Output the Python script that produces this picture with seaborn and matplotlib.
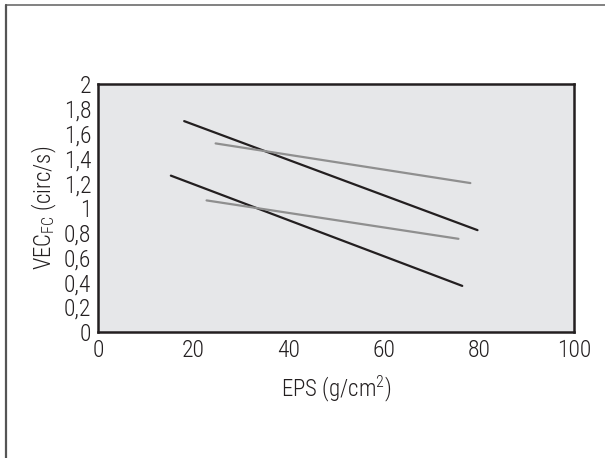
import numpy as np
import pandas as pd
import matplotlib
matplotlib.use("Agg")
import matplotlib.pyplot as plt
from matplotlib.lines import Line2D
import seaborn as sns

# ── Data (two end points per regression line) ──
series = ["black_upper", "black_lower", "gray_upper", "gray_lower"]
x_start = [18.1, 15.3, 24.7, 22.8]
x_end = [79.7, 76.5, 78.2, 75.7]
y_start = [1.70, 1.26, 1.52, 1.06]
y_end = [0.82, 0.37, 1.20, 0.75]

x_ticks = [0, 20, 40, 60, 80, 100]
y_ticks = [0, 0.2, 0.4, 0.6, 0.8, 1.0, 1.2, 1.4, 1.6, 1.8, 2.0]
y_ticklabels = ["0", "0,2", "0,4", "0,6", "0,8", "1", "1,2", "1,4", "1,6", "1,8", "2"]

rows = []
for s, x0, x1, y0, y1 in zip(series, x_start, x_end, y_start, y_end):
    rows.append([s, x0, y0])
    rows.append([s, x1, y1])
df = pd.DataFrame(rows, columns=["series", "EPS", "VEC"])

palette = {"black_upper": "#231f20", "black_lower": "#231f20",
           "gray_upper": "#8f8f8f", "gray_lower": "#8f8f8f"}

sns.set_style("white")
FONT = "Roboto Condensed"
plt.rcParams["font.family"] = [FONT, "Liberation Sans", "DejaVu Sans"]
plt.rcParams["font.weight"] = "light"
plt.rcParams["axes.labelweight"] = "light"
plt.rcParams["mathtext.fontset"] = "custom"
plt.rcParams["mathtext.rm"] = FONT + ":light"

fig = plt.figure(figsize=(6.05, 4.58), dpi=100)
ax = fig.add_axes([0.162, 0.2757, 0.787, 0.541])
ax.set_facecolor("#e6e7e9")

sns.lineplot(data=df, x="EPS", y="VEC", hue="series", units="series",
             estimator=None, palette=palette, linewidth=1.6, legend=False, ax=ax)

ax.set_xlim(0, 100)
ax.set_ylim(0, 2)
ax.set_xticks(x_ticks)
ax.set_xticklabels([str(t) for t in x_ticks])
ax.set_yticks(y_ticks)
ax.set_yticklabels(y_ticklabels)
ax.tick_params(direction="inout", length=8, width=1.6, color="#231f20",
               labelsize=17, labelcolor="#231f20", pad=1)
for sp in ax.spines.values():
    sp.set_visible(True)
    sp.set_color("#231f20")
    sp.set_linewidth(1.8)

ax.set_xlabel("EPS (g/cm$^{2}$)", fontsize=16.5, color="#231f20",
              fontweight="light", labelpad=9)
ax.set_ylabel("VEC$_{\\rm FC}$ (circ/s)", fontsize=16.5, color="#231f20",
              fontweight="light", labelpad=3)

# outer frame (top and left only)
fig.add_artist(Line2D([6 / 605, 1], [1 - 5 / 458, 1 - 5 / 458],
                      transform=fig.transFigure, color="#777777", linewidth=1.3))
fig.add_artist(Line2D([6 / 605, 6 / 605], [0, 1 - 5 / 458],
                      transform=fig.transFigure, color="#555555", linewidth=1.6))

fig.savefig("out.png", dpi=100)
